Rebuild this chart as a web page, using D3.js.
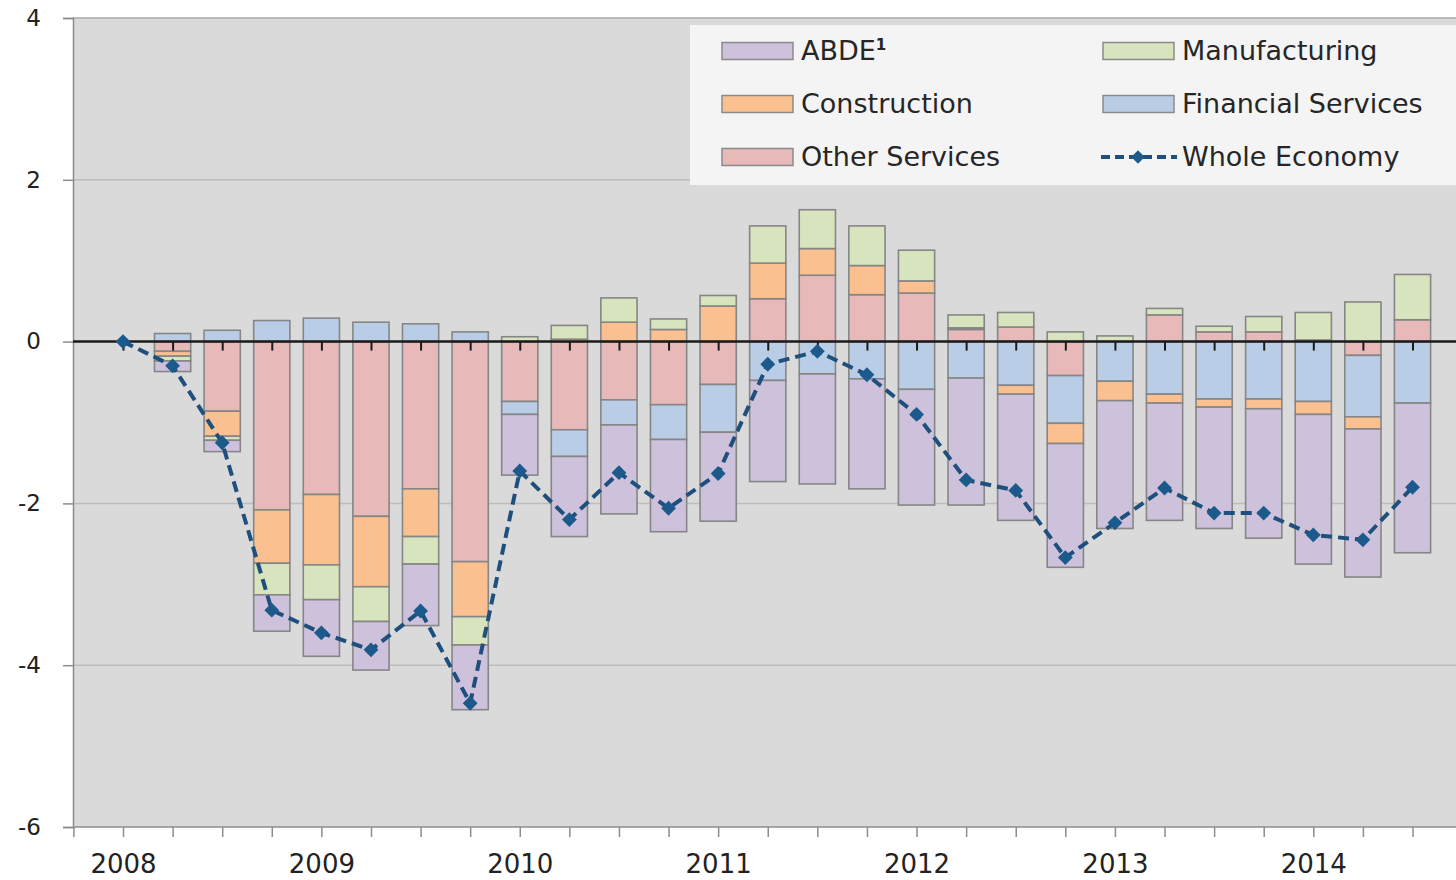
<!DOCTYPE html>
<html>
<head>
<meta charset="utf-8">
<script src="https://cdn.jsdelivr.net/npm/d3@7"></script>
<style>
  body{margin:0;background:#fff;}
  svg{display:block;font-family:"DejaVu Sans",Verdana,sans-serif;}
</style>
</head>
<body>
<div id="chart"></div>
<script>
// quarters 2008 Q1 .. 2014 Q3
const quarters = ['2008Q1','2008Q2','2008Q3','2008Q4','2009Q1','2009Q2','2009Q3','2009Q4',
  '2010Q1','2010Q2','2010Q3','2010Q4','2011Q1','2011Q2','2011Q3','2011Q4',
  '2012Q1','2012Q2','2012Q3','2012Q4','2013Q1','2013Q2','2013Q3','2013Q4',
  '2014Q1','2014Q2','2014Q3'];
const yearLabels = ['2008','2009','2010','2011','2012','2013','2014'];
const yTicks = [-6,-4,-2,0,2,4];

const otherServices = [0,-0.12,-0.86,-2.08,-1.89,-2.16,-1.82,-2.72,-0.74,-1.09,-0.72,-0.78,-0.53,
  0.53,0.82,0.58,0.60,0.15,0.18,-0.42,0,0.33,0.12,0.12,0.02,-0.17,0.27];
const financial = [0,0.10,0.14,0.26,0.29,0.24,0.22,0.12,-0.16,-0.33,-0.31,-0.43,-0.59,
  -0.48,-0.40,-0.46,-0.59,-0.45,-0.54,-0.59,-0.49,-0.65,-0.71,-0.71,-0.74,-0.76,-0.76];
const construction = [0,-0.06,-0.31,-0.66,-0.87,-0.87,-0.59,-0.68,0,0.03,0.24,0.15,0.44,
  0.44,0.33,0.36,0.15,0.02,-0.11,-0.25,-0.24,-0.11,-0.10,-0.12,-0.16,-0.15,0];
const manufacturing = [0,-0.06,-0.05,-0.39,-0.43,-0.43,-0.34,-0.35,0.06,0.17,0.30,0.13,0.13,
  0.46,0.48,0.49,0.38,0.16,0.18,0.12,0.07,0.08,0.07,0.19,0.34,0.49,0.56];
const abde = [0,-0.13,-0.14,-0.45,-0.70,-0.60,-0.76,-0.80,-0.75,-0.99,-1.10,-1.14,-1.10,
  -1.25,-1.36,-1.36,-1.43,-1.57,-1.56,-1.53,-1.58,-1.45,-1.50,-1.60,-1.85,-1.83,-1.85];
const wholeEconomy = [0,-0.30,-1.25,-3.32,-3.60,-3.81,-3.33,-4.47,-1.60,-2.20,-1.62,-2.06,-1.63,
  -0.28,-0.12,-0.41,-0.90,-1.71,-1.84,-2.67,-2.24,-1.81,-2.12,-2.12,-2.39,-2.45,-1.80];

// stacking order outward from zero
const stackKeys = ['other','financial','construction','manufacturing','abde'];
const colors = {abde:'#cdc1dc', manufacturing:'#d8e4bd', construction:'#fbc08f',
  financial:'#b9cde6', other:'#e7b9b9'};

const legendItems = [
  {key:'abde', label:'ABDE', sup:'1'},
  {key:'manufacturing', label:'Manufacturing'},
  {key:'construction', label:'Construction'},
  {key:'financial', label:'Financial Services'},
  {key:'other', label:'Other Services'},
  {key:'whole', label:'Whole Economy'}
];

class Chart{
  constructor({el}){
    this._el = el;
    this.width = 1456;
    this.height = 880;
    this.plot = {l:73, t:18, r:1456, b:827};
    this.rows = quarters.map((q,i)=>({
      i:i, q:q,
      other:otherServices[i], financial:financial[i], construction:construction[i],
      manufacturing:manufacturing[i], abde:abde[i], whole:wholeEconomy[i]
    }));
  }

  _makeSVG(){
    this.svg = d3.select(this._el).append('svg')
      .attr('width', this.width)
      .attr('height', this.height);
    this.svg.append('defs').append('clipPath').attr('id','plotClip')
      .append('rect')
      .attr('x', this.plot.l).attr('y', this.plot.t - 2)
      .attr('width', this.plot.r - this.plot.l).attr('height', this.plot.b - this.plot.t + 4);
  }

  _makeScales(){
    const step = (1412.5 - 123) / 26;
    this.x = d3.scaleLinear().domain([-1, 27]).range([123 - step, 123 + 27*step]);
    this.y = d3.scaleLinear().domain([-6, 4]).range([this.plot.b, this.plot.t]);
    this.barW = step * 0.73;
  }

  _makeBackground(){
    const p = this.plot;
    this.svg.append('rect')
      .attr('x', p.l).attr('y', p.t)
      .attr('width', p.r - p.l).attr('height', p.b - p.t)
      .attr('fill', '#dadada');
    this.svg.append('g')
      .selectAll('line')
      .data(yTicks.filter(d => d !== 0 && d !== -6))
      .join('line')
      .attr('x1', p.l).attr('x2', p.r)
      .attr('y1', d => this.y(d)).attr('y2', d => this.y(d))
      .attr('stroke', d => d === 4 ? '#a8a8a8' : '#bdbdbd')
      .attr('stroke-width', 1.5);
  }

  _makeAxes(){
    const p = this.plot;
    const yAxis = this.svg.append('g')
      .attr('transform', `translate(${p.l},0)`)
      .call(d3.axisLeft(this.y).tickValues(yTicks).tickSize(10).tickPadding(22)
        .tickFormat(d => String(d)));
    yAxis.select('.domain').attr('stroke', '#8c8c8c').attr('stroke-width', 1.5);
    yAxis.selectAll('.tick line').attr('stroke', '#8c8c8c').attr('stroke-width', 1.5);
    yAxis.selectAll('.tick text')
      .attr('font-size', 23).attr('fill', '#222')
      .attr('font-family', '"DejaVu Sans",Verdana,sans-serif');

    const xAxis = this.svg.append('g')
      .attr('transform', `translate(0,${p.b})`)
      .call(d3.axisBottom(this.x).tickValues(d3.range(-1, 28)).tickSize(10).tickPadding(18)
        .tickFormat(d => (d >= 0 && d % 4 === 0) ? yearLabels[d/4] : ''));
    xAxis.select('.domain').attr('d', `M${p.l},0H${p.r + 10}`)
      .attr('stroke', '#8c8c8c').attr('stroke-width', 1.5);
    xAxis.selectAll('.tick line').attr('stroke', '#8c8c8c').attr('stroke-width', 1.5);
    xAxis.selectAll('.tick text')
      .attr('font-size', 26).attr('fill', '#222')
      .attr('font-family', '"DejaVu Sans",Verdana,sans-serif');
  }

  _makeBars(){
    const series = d3.stack()
      .keys(stackKeys)
      .offset(d3.stackOffsetDiverging)
      .order(d3.stackOrderNone)(this.rows);

    const g = this.svg.append('g').attr('clip-path', 'url(#plotClip)');
    g.selectAll('g')
      .data(series)
      .join('g')
      .attr('fill', d => colors[d.key])
      .selectAll('rect')
      .data(d => d.filter(s => Math.abs(s[1] - s[0]) > 0.001))
      .join('rect')
      .attr('x', d => this.x(d.data.i) - this.barW/2)
      .attr('width', this.barW)
      .attr('y', d => this.y(Math.max(d[0], d[1])))
      .attr('height', d => Math.abs(this.y(d[0]) - this.y(d[1])))
      .attr('stroke', '#868686')
      .attr('stroke-width', 1.6);
  }

  _makeZeroLine(){
    const p = this.plot;
    const zero = this.svg.append('g')
      .attr('transform', `translate(0,${this.y(0)})`)
      .call(d3.axisBottom(this.x).tickValues(d3.range(0, 27)).tickSize(9).tickFormat(''));
    zero.select('.domain').attr('d', `M${p.l},0H${p.r}`)
      .attr('stroke', '#1a1a1a').attr('stroke-width', 2.5);
    zero.selectAll('.tick line').attr('stroke', '#1a1a1a').attr('stroke-width', 2);
  }

  _makeLine(){
    const line = d3.line()
      .x(d => this.x(d.i))
      .y(d => this.y(d.whole));
    const g = this.svg.append('g').attr('clip-path', 'url(#plotClip)');
    g.append('path')
      .datum(this.rows)
      .attr('d', line)
      .attr('fill', 'none')
      .attr('stroke', '#1f4f7c')
      .attr('stroke-width', 4)
      .attr('stroke-dasharray', '11,6');
    g.selectAll('.marker')
      .data(this.rows)
      .join('path')
      .attr('class', 'marker')
      .attr('d', d3.symbol(d3.symbolSquare, 110))
      .attr('transform', d => `translate(${this.x(d.i)},${this.y(d.whole)}) rotate(45)`)
      .attr('fill', '#1d5a8c');
  }

  _makeLegend(){
    const box = {x:690, y:25, w:780, h:160};
    const lg = this.svg.append('g');
    lg.append('rect')
      .attr('x', box.x).attr('y', box.y).attr('width', box.w).attr('height', box.h)
      .attr('fill', '#f4f4f4');
    const colX = [722, 1103];
    const rowY = [51, 104, 157];
    const item = lg.selectAll('g.item')
      .data(legendItems)
      .join('g')
      .attr('class', 'item')
      .attr('transform', (d,i) => `translate(${colX[i % 2]},${rowY[Math.floor(i/2)]})`);

    item.filter(d => d.key !== 'whole')
      .append('rect')
      .attr('x', 0).attr('y', -8.5).attr('width', 71).attr('height', 17)
      .attr('fill', d => colors[d.key])
      .attr('stroke', '#8a8a8a').attr('stroke-width', 1.5);

    const whole = item.filter(d => d.key === 'whole');
    whole.append('line')
      .attr('x1', -2).attr('x2', 74).attr('y1', 0).attr('y2', 0)
      .attr('stroke', '#1f4f7c').attr('stroke-width', 4)
      .attr('stroke-dasharray', '9,5');
    whole.append('path')
      .attr('d', d3.symbol(d3.symbolSquare, 90))
      .attr('transform', 'translate(35,0) rotate(45)')
      .attr('fill', '#1d5a8c');

    const txt = item.append('text')
      .attr('x', 79).attr('y', 0)
      .attr('dy', '0.35em')
      .attr('font-size', 27)
      .attr('fill', '#262626')
      .text(d => d.label);
    txt.filter(d => d.sup)
      .append('tspan')
      .attr('font-size', 15)
      .attr('dy', '-0.7em')
      .attr('font-weight', 'bold')
      .text(d => d.sup);
  }

  render(){
    this._makeSVG();
    this._makeScales();
    this._makeBackground();
    this._makeAxes();
    this._makeBars();
    this._makeZeroLine();
    this._makeLine();
    this._makeLegend();
  }
}

const chart = new Chart({el: document.querySelector('#chart')});
chart.render();
</script>
</body>
</html>
